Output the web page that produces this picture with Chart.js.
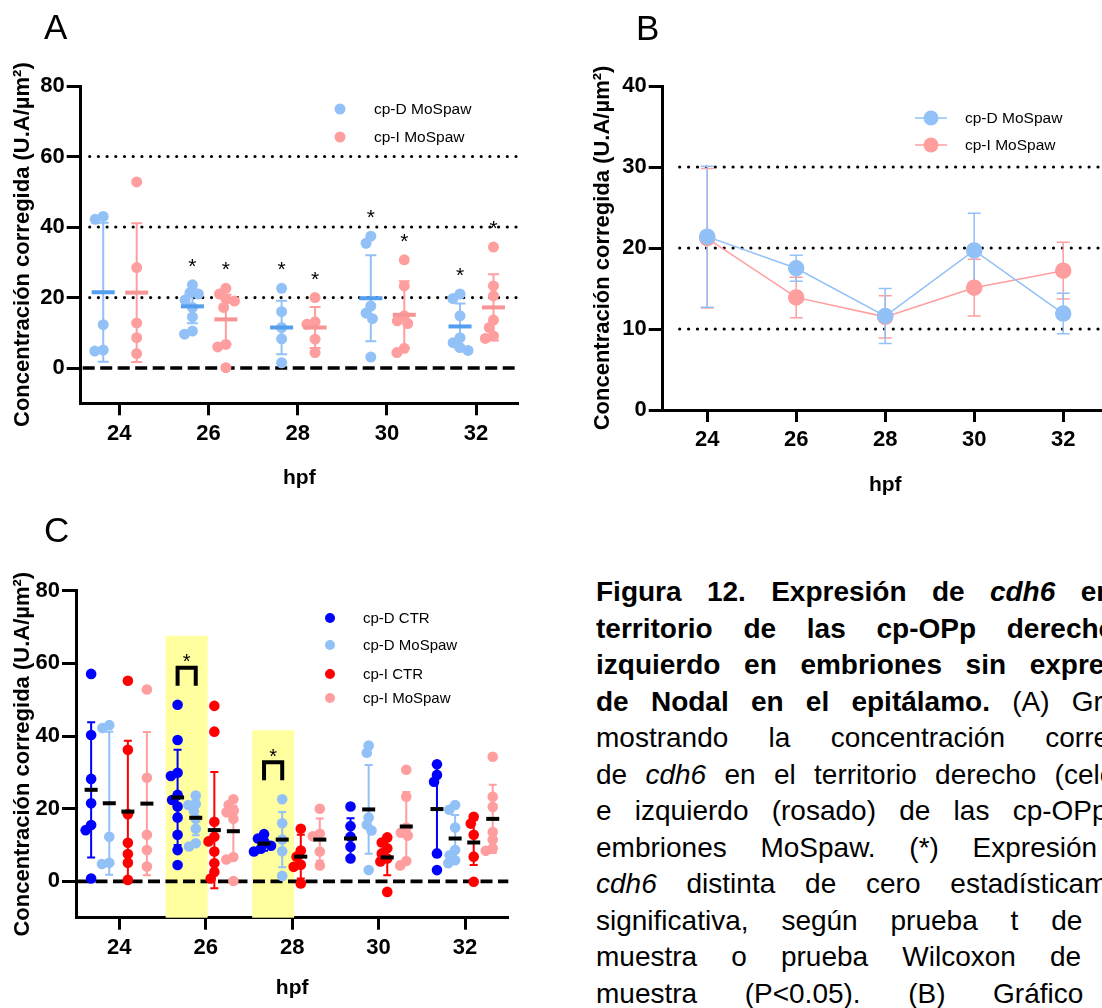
<!DOCTYPE html>
<html lang="es">
<head>
<meta charset="utf-8">
<title>cdh6 MoSpaw</title>
<script src="https://cdn.jsdelivr.net/npm/chart.js@4.4.0/dist/chart.umd.min.js"></script>
<style>
  html, body { margin: 0; padding: 0; background: #fff; }
  body { width: 1102px; height: 1008px; overflow: hidden; position: relative;
         font-family: "Liberation Sans", Arial, Helvetica, sans-serif; color: #000; }
  canvas { position: absolute; }
  .tag { position: absolute; font-size: 35px; line-height: 1; }
  #caption { position: absolute; left: 596px; top: 574px; font-size: 28px; line-height: 36.5px; }
  #caption div { width: 566px; white-space: nowrap; text-align: justify; text-align-last: justify; }
</style>
</head>
<body>
<canvas id="chartA" width="545" height="510" style="left:0;top:0"></canvas>
<canvas id="chartB" width="560" height="510" style="left:560px;top:0"></canvas>
<canvas id="chartC" width="545" height="498" style="left:0;top:510px"></canvas>
<div class="tag" style="left:44px;top:9px">A</div>
<div class="tag" style="left:636px;top:10px">B</div>
<div class="tag" style="left:44px;top:512px">C</div>

<div id="caption">
  <div><b>Figura 12. Expresión de <i>cdh6</i> en el</b></div>
  <div><b>territorio de las cp-OPp derecho e</b></div>
  <div><b>izquierdo en embriones sin expresión</b></div>
  <div><b>de Nodal en el epitálamo.</b> (A) Gráfico</div>
  <div>mostrando la concentración corregida</div>
  <div>de <i>cdh6</i> en el territorio derecho (celeste)</div>
  <div>e izquierdo (rosado) de las cp-OPp en</div>
  <div>embriones MoSpaw. (*) Expresión de</div>
  <div><i>cdh6</i> distinta de cero estadísticamente</div>
  <div>significativa, según prueba t de una</div>
  <div>muestra o prueba Wilcoxon de una</div>
  <div>muestra (P&lt;0.05). (B) Gráfico de</div>
</div>

<script>
const FONT = '"Liberation Sans", Arial, Helvetica, sans-serif';
Chart.defaults.font.family = FONT;
Chart.defaults.color = '#000';

// groups (hours post fertilization)
const hpf = [24, 26, 28, 30, 32];
const concTicks = [0, 20, 40, 60, 80];
const meanTicks = [0, 10, 20, 30, 40];

// individual embryos, MoSpaw
const dMoSpaw = [
  [43.0, 42.2, 12.3, 5.1, 4.8],
  [23.6, 21.3, 21.0, 19.3, 17.2, 14.5, 10.5, 9.6],
  [22.6, 16.0, 11.5, 8.3, 1.5],
  [37.4, 35.4, 17.6, 15.6, 14.0, 3.1],
  [21.0, 19.7, 14.8, 8.6, 7.2, 5.8, 5.0]
];
const iMoSpaw = [
  [52.8, 28.5, 12.8, 8.6, 4.1],
  [22.6, 21.0, 19.5, 19.0, 17.2, 6.7, 6.0, 0.1],
  [20.0, 13.1, 12.4, 8.2, 4.4],
  [30.7, 23.3, 14.8, 13.4, 12.6, 5.6, 4.4],
  [34.3, 23.3, 20.5, 13.6, 11.5, 9.1, 8.4]
];
// individual embryos, controls
const dCTR = [
  [57.1, 40.3, 28.2, 21.5, 15.5, 14.1, 0.8],
  [48.6, 38.9, 29.9, 29.0, 23.8, 22.4, 20.6, 17.6, 12.8, 8.6, 4.5],
  [13.0, 11.8, 10.8, 9.8, 9.0, 8.2],
  [20.6, 15.2, 12.3, 9.5, 6.3],
  [32.2, 29.3, 27.4, 7.7, 3.1]
];
const iCTR = [
  [55.2, 36.2, 18.5, 10.6, 7.5, 5.1, 0.4],
  [48.3, 41.2, 16.4, 12.3, 11.0, 8.2, 5.0, 2.6, 0.8],
  [14.5, 8.5, 6.8, 4.6, 4.0, -0.6],
  [12.1, 10.7, 9.1, 7.7, 6.3, 5.5, -2.9],
  [17.8, 15.9, 12.8, 6.8, -0.1]
];

// mean and SD per group
const dMoSpawMean = [21.5, 17.5, 11.5, 19.8, 11.8];
const dMoSpawSD   = [19.7, 4.8, 7.6, 12.2, 6.5];
const iMoSpawMean = [21.4, 13.8, 11.5, 15.1, 17.2];
const iMoSpawSD   = [19.7, 7.0, 5.8, 9.5, 9.4];
const dCTRMean = [25.2, 23.1, 10.4, 11.8, 19.9];
const dCTRSD   = [18.6, 13.1, 2.0, 5.6, 13.0];
const iCTRMean = [19.2, 14.1, 6.8, 6.6, 10.7];
const iCTRSD   = [19.5, 16.0, 6.0, 4.9, 6.2];

// panel B: mean ± SEM
const bMeanD = [21.4, 17.5, 11.6, 19.7, 11.9];
const bSemD  = [8.7, 1.6, 3.4, 4.6, 2.5];
const bMeanI = [21.2, 13.9, 11.5, 15.1, 17.2];
const bSemI  = [8.6, 2.5, 2.6, 3.5, 3.5];

// significance flags
const sigD = [false, true, true, true, true];   // cp-D MoSpaw vs 0
const sigI = [false, true, true, true, true];   // cp-I MoSpaw vs 0
const sigCTRvsMo = [false, true, true, false, false]; // cp-D CTR vs cp-D MoSpaw

const LBLUE = 'rgb(146,193,247)';
const PINK = 'rgb(255,158,158)';
const BLUE = 'rgb(0,0,255)';
const RED = 'rgb(255,0,0)';
const LBLUE_BAR = 'rgb(84,158,240)';
const PINK_BAR = 'rgb(247,148,148)';

// simple beeswarm: spreads overlapping points sideways (returns x offsets in axis units)
function swarm(values, pxX, pxY, diam) {
  const placed = [];
  const xs = new Array(values.length).fill(0);
  const order = values.map((v, i) => i).sort((a, b) => values[b] - values[a]);
  order.forEach(i => {
    const y = values[i] * pxY;
    const cands = [0];
    placed.forEach(p => {
      const dy = Math.abs(p.y - y);
      if (dy < diam) {
        const dx = Math.sqrt(diam * diam - dy * dy);
        cands.push(p.x - dx, p.x + dx);
      }
    });
    cands.sort((a, b) => Math.abs(a) - Math.abs(b));
    let best = 0;
    for (const c of cands) {
      if (placed.every(p => (p.x - c) ** 2 + (p.y - y) ** 2 >= diam * diam - 0.01)) { best = c; break; }
    }
    placed.push({ x: best, y });
    xs[i] = best / pxX;
  });
  return xs;
}

function points(groups, offset, pxX, pxY, diam) {
  const out = [];
  groups.forEach((vals, i) => {
    const dx = swarm(vals, pxX, pxY, diam);
    vals.forEach((v, k) => out.push({ x: hpf[i] + offset + dx[k], y: v }));
  });
  return out;
}

function drawStar(ctx, x, cy, size) {
  ctx.font = size + 'px ' + FONT;
  ctx.textAlign = 'center';
  ctx.textBaseline = 'alphabetic';
  ctx.fillStyle = '#000';
  ctx.fillText('*', x, cy + size * 0.57);
}

// dotted guide lines and dashed zero line
const refLines = {
  id: 'refLines',
  beforeDatasetsDraw(chart, args, o) {
    const { ctx, chartArea: a, scales: { y } } = chart;
    ctx.save();
    ctx.strokeStyle = '#000';
    ctx.lineCap = 'round';
    ctx.lineWidth = 3.2;
    ctx.setLineDash([0, o.dotGap]);
    (o.dotted || []).forEach(v => {
      const py = y.getPixelForValue(v);
      ctx.beginPath(); ctx.moveTo(a.left + o.dotStart, py); ctx.lineTo(a.right, py); ctx.stroke();
    });
    if (o.zero) {
      const py = y.getPixelForValue(0);
      ctx.lineCap = 'butt';
      ctx.lineWidth = 3.6;
      ctx.setLineDash([12, 5.5]);
      ctx.beginPath(); ctx.moveTo(a.left + 2, py); ctx.lineTo(a.right, py); ctx.stroke();
    }
    ctx.restore();
  }
};

// error bars behind the points, mean bars on top
const groupStats = {
  id: 'groupStats',
  beforeDatasetsDraw(chart, args, o) {
    const { ctx, scales: { x, y } } = chart;
    ctx.save();
    o.series.forEach(s => {
      ctx.strokeStyle = s.color;
      ctx.lineWidth = s.errWidth;
      hpf.forEach((h, i) => {
        const px = x.getPixelForValue(h + s.offset);
        const lo = y.getPixelForValue(s.mean[i] - s.err[i]);
        const hi = y.getPixelForValue(s.mean[i] + s.err[i]);
        ctx.beginPath();
        ctx.moveTo(px, lo); ctx.lineTo(px, hi);
        ctx.moveTo(px - s.cap / 2, lo); ctx.lineTo(px + s.cap / 2, lo);
        ctx.moveTo(px - s.cap / 2, hi); ctx.lineTo(px + s.cap / 2, hi);
        ctx.stroke();
      });
    });
    ctx.restore();
  },
  afterDatasetsDraw(chart, args, o) {
    const { ctx, scales: { x, y } } = chart;
    ctx.save();
    o.series.forEach(s => {
      if (!s.bar) return;
      ctx.fillStyle = s.bar;
      hpf.forEach((h, i) => {
        const px = x.getPixelForValue(h + s.offset);
        const py = y.getPixelForValue(s.mean[i]);
        ctx.fillRect(px - s.barW / 2, py - s.barH / 2, s.barW, s.barH);
      });
    });
    ctx.restore();
  }
};

// asterisks above groups different from zero
const zeroStars = {
  id: 'zeroStars',
  afterDatasetsDraw(chart, args, o) {
    const { ctx, scales: { x, y } } = chart;
    ctx.save();
    o.series.forEach(s => hpf.forEach((h, i) => {
      if (!s.sig[i]) return;
      const px = x.getPixelForValue(h + s.offset);
      const top = y.getPixelForValue(Math.max(...s.values[i]));
      drawStar(ctx, px, top - o.gap, o.size);
    }));
    ctx.restore();
  }
};

// highlighted pairs with bracket and asterisk
const pairMarks = {
  id: 'pairMarks',
  _geo(chart, o, i) {
    const { scales: { x, y } } = chart;
    const xa = x.getPixelForValue(hpf[i] + o.offsets[0]);
    const xb = x.getPixelForValue(hpf[i] + o.offsets[1]);
    const top = y.getPixelForValue(Math.max(...o.a[i], ...o.b[i])) - o.lift;
    return { xa, xb, top };
  },
  beforeDatasetsDraw(chart, args, o) {
    const { ctx, chartArea: a } = chart;
    ctx.save();
    ctx.fillStyle = o.fill;
    o.sig.forEach((s, i) => {
      if (!s) return;
      const g = this._geo(chart, o, i);
      const cx = (g.xa + g.xb) / 2;
      ctx.fillRect(cx - o.halfW, g.top - o.boxAbove, o.halfW * 2, a.bottom - (g.top - o.boxAbove));
    });
    ctx.restore();
  },
  afterDatasetsDraw(chart, args, o) {
    const { ctx } = chart;
    ctx.save();
    o.sig.forEach((s, i) => {
      if (!s) return;
      const g = this._geo(chart, o, i);
      ctx.strokeStyle = '#000';
      ctx.lineWidth = 4;
      ctx.lineJoin = 'miter';
      ctx.beginPath();
      ctx.moveTo(g.xa, g.top + o.leg); ctx.lineTo(g.xa, g.top);
      ctx.lineTo(g.xb, g.top); ctx.lineTo(g.xb, g.top + o.leg);
      ctx.stroke();
      drawStar(ctx, (g.xa + g.xb) / 2, g.top - 11, 20);
    });
    ctx.restore();
  }
};

// in-plot key built from the datasets
const keyBox = {
  id: 'keyBox',
  afterDraw(chart, args, o) {
    const { ctx } = chart;
    ctx.save();
    ctx.font = o.size + 'px ' + FONT;
    ctx.textBaseline = 'middle';
    ctx.textAlign = 'left';
    chart.data.datasets.forEach((ds, k) => {
      const yy = o.rows[k];
      const col = ds.backgroundColor;
      if (o.line) {
        ctx.strokeStyle = col; ctx.lineWidth = 1.5;
        ctx.beginPath(); ctx.moveTo(o.x - o.line / 2, yy); ctx.lineTo(o.x + o.line / 2, yy); ctx.stroke();
      }
      ctx.fillStyle = col;
      ctx.beginPath(); ctx.arc(o.x, yy, o.r, 0, Math.PI * 2); ctx.fill();
      ctx.fillStyle = '#000';
      ctx.fillText(ds.label, o.textX, yy + 1);
    });
    ctx.restore();
  }
};

const yTitle = 'Concentración corregida (U.A/µm²)';

function xAxis(min, max, height) {
  return {
    type: 'linear', min, max, bounds: 'data',
    afterBuildTicks: s => { s.ticks = hpf.map(v => ({ value: v })); },
    afterFit: s => { s.height = height; },
    border: { color: '#000', width: 3 },
    grid: { drawOnChartArea: false, color: '#000', tickLength: 12, tickWidth: 3 },
    ticks: { color: '#000', padding: 5, font: { size: 22, weight: 'bold' } },
    title: { display: true, text: 'hpf', color: '#000', font: { size: 21, weight: 'bold' }, padding: { top: 0, bottom: 2 } }
  };
}

function yAxis(min, max, ticks, width, titlePad) {
  return {
    min, max, bounds: 'data',
    afterBuildTicks: s => { s.ticks = ticks.map(v => ({ value: v })); },
    afterFit: s => { s.width = width; },
    border: { color: '#000', width: 3 },
    grid: { drawOnChartArea: false, color: '#000', tickLength: 14, tickWidth: 3 },
    ticks: { color: '#000', padding: 2, font: { size: 22, weight: 'bold' } },
    title: { display: true, text: yTitle, color: '#000', font: { size: 22, weight: 'bold' }, padding: { top: titlePad, bottom: 0 } }
  };
}

const base = {
  responsive: false,
  animation: false,
  events: [],
  plugins: { legend: { display: false }, tooltip: { enabled: false } }
};

// ---- A: individual embryos, MoSpaw ----
const offA = [-0.36, 0.39];
new Chart(document.getElementById('chartA'), {
  type: 'scatter',
  data: {
    datasets: [
      { label: 'cp-D MoSpaw', data: points(dMoSpaw, offA[0], 44.6, 3.526, 8.5),
        backgroundColor: LBLUE, borderWidth: 0, pointRadius: 5.5 },
      { label: 'cp-I MoSpaw', data: points(iMoSpaw, offA[1], 44.6, 3.526, 8.5),
        backgroundColor: PINK, borderWidth: 0, pointRadius: 5.5 }
    ]
  },
  options: {
    ...base,
    layout: { padding: { left: 0, top: 86, right: 27, bottom: 16.7 } },
    scales: { x: xAxis(23.135, 32.94, 90), y: yAxis(-10, 80, concTicks, 80.7, 9.5) },
    plugins: {
      ...base.plugins,
      refLines: { dotted: [20, 40, 60], zero: true, dotGap: 8.7, dotStart: 9 },
      groupStats: { series: [
        { offset: offA[0], mean: dMoSpawMean, err: dMoSpawSD, color: LBLUE, errWidth: 2, cap: 11, bar: LBLUE_BAR, barW: 23, barH: 4 },
        { offset: offA[1], mean: iMoSpawMean, err: iMoSpawSD, color: PINK, errWidth: 2, cap: 11, bar: PINK_BAR, barW: 23, barH: 4 }
      ] },
      zeroStars: { gap: 24, size: 21, series: [
        { offset: offA[0], values: dMoSpaw, sig: sigD },
        { offset: offA[1], values: iMoSpaw, sig: sigI }
      ] },
      keyBox: { x: 340, rows: [109, 137], textX: 374, r: 5.5, size: 15.5 }
    }
  },
  plugins: [refLines, groupStats, zeroStars, keyBox]
});

// ---- B: mean ± SEM ----
new Chart(document.getElementById('chartB'), {
  type: 'scatter',
  data: {
    datasets: [
      { label: 'cp-D MoSpaw', data: hpf.map((h, i) => ({ x: h, y: bMeanD[i] })), showLine: true,
        backgroundColor: LBLUE, borderColor: LBLUE, borderWidth: 1.5, pointRadius: 7.5 },
      { label: 'cp-I MoSpaw', data: hpf.map((h, i) => ({ x: h, y: bMeanI[i] })), showLine: true,
        backgroundColor: PINK, borderColor: PINK, borderWidth: 1.5, pointRadius: 7.5 }
    ]
  },
  options: {
    ...base,
    layout: { padding: { left: 20, top: 86, right: 12.3, bottom: 10 } },
    scales: { x: xAxis(23, 33, 90), y: yAxis(0, 40, meanTicks, 82.7, 9.5) },
    plugins: {
      ...base.plugins,
      refLines: { dotted: [10, 20, 30], zero: false, dotGap: 8.9, dotStart: 17 },
      groupStats: { series: [
        { offset: 0, mean: bMeanI, err: bSemI, color: PINK, errWidth: 1.5, cap: 13 },
        { offset: 0, mean: bMeanD, err: bSemD, color: LBLUE, errWidth: 1.5, cap: 13 }
      ] },
      keyBox: { x: 371, rows: [118, 145], textX: 405, r: 7.5, size: 15.5, line: 32 }
    }
  },
  plugins: [refLines, groupStats, keyBox]
});

// ---- C: controls and MoSpaw ----
const offC = [-0.65, -0.23, 0.2, 0.64];
new Chart(document.getElementById('chartC'), {
  type: 'scatter',
  data: {
    datasets: [
      { label: 'cp-D CTR', data: points(dCTR, offC[0], 43.5, 3.633, 7.5),
        backgroundColor: BLUE, borderWidth: 0, pointRadius: 5.3 },
      { label: 'cp-D MoSpaw', data: points(dMoSpaw, offC[1], 43.5, 3.633, 7.5),
        backgroundColor: LBLUE, borderWidth: 0, pointRadius: 5.3 },
      { label: 'cp-I CTR', data: points(iCTR, offC[2], 43.5, 3.633, 7.5),
        backgroundColor: RED, borderWidth: 0, pointRadius: 5.3 },
      { label: 'cp-I MoSpaw', data: points(iMoSpaw, offC[3], 43.5, 3.633, 7.5),
        backgroundColor: PINK, borderWidth: 0, pointRadius: 5.3 }
    ]
  },
  options: {
    ...base,
    layout: { padding: { left: 0, top: 80.7, right: 36.7, bottom: 5.3 } },
    scales: { x: xAxis(23, 33, 85), y: yAxis(-10, 80, concTicks, 76, 9.5) },
    plugins: {
      ...base.plugins,
      pairMarks: { sig: sigCTRvsMo, a: dCTR, b: dMoSpaw, offsets: [offC[0], offC[1]],
                   lift: 37, leg: 18, boxAbove: 32, halfW: 21, fill: 'rgb(255,255,160)' },
      refLines: { dotted: [], zero: true },
      groupStats: { series: [
        { offset: offC[0], mean: dCTRMean, err: dCTRSD, color: BLUE, errWidth: 2, cap: 8, bar: '#000', barW: 13, barH: 4 },
        { offset: offC[1], mean: dMoSpawMean, err: dMoSpawSD, color: LBLUE, errWidth: 2, cap: 8, bar: '#000', barW: 13, barH: 4 },
        { offset: offC[2], mean: iCTRMean, err: iCTRSD, color: RED, errWidth: 2, cap: 8, bar: '#000', barW: 13, barH: 4 },
        { offset: offC[3], mean: iMoSpawMean, err: iMoSpawSD, color: PINK, errWidth: 2, cap: 8, bar: '#000', barW: 13, barH: 4 }
      ] },
      keyBox: { x: 330, rows: [108, 135, 164, 188], textX: 363, r: 5, size: 15 }
    }
  },
  plugins: [pairMarks, refLines, groupStats, keyBox]
});
</script>
</body>
</html>
